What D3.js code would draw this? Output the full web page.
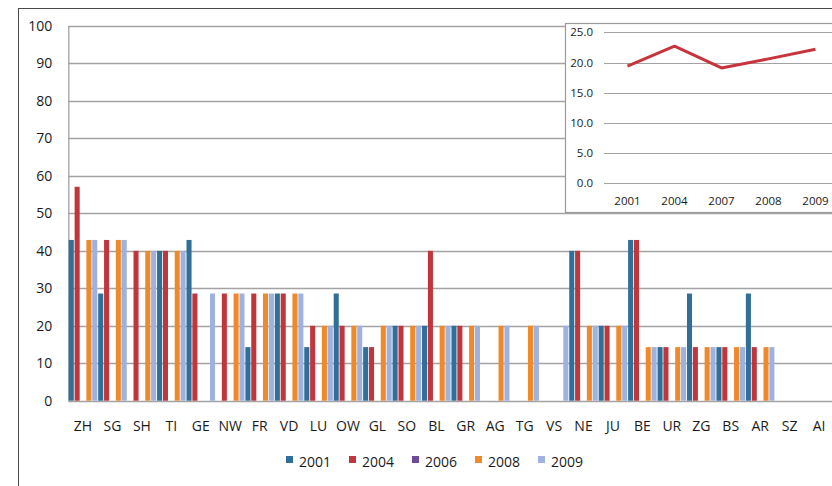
<!DOCTYPE html>
<html>
<head>
<meta charset="utf-8">
<script src="https://cdn.jsdelivr.net/npm/d3@7"></script>
<style>
  html, body { margin: 0; padding: 0; background: #fff; }
  svg { display: block; }
  text { font-family: "Open Sans", "Noto Sans", sans-serif; fill: #1a1a1a; }
</style>
</head>
<body>
<svg id="chart" width="832" height="486"></svg>
<script>
// ---------- data ----------
const categories = ["ZH","SG","SH","TI","GE","NW","FR","VD","LU","OW","GL","SO","BL","GR","AG","TG","VS","NE","JU","BE","UR","ZG","BS","AR","SZ","AI"];
const seriesNames = ["2001","2004","2006","2008","2009"];
const s2001 = [42.9,28.6,null,40,42.9,null,14.3,28.6,14.3,28.6,14.3,20,20,20,null,null,null,40,20,42.9,14.3,28.6,14.3,28.6,null,null];
const s2004 = [57.1,42.9,40,40,28.6,28.6,28.6,28.6,20,20,14.3,20,40,20,null,null,null,40,20,42.9,14.3,14.3,14.3,14.3,null,null];
const s2006 = [null,null,null,null,null,null,null,null,null,null,null,null,null,null,null,null,null,null,null,null,null,null,null,null,null,null];
const s2008 = [42.9,42.9,40,40,null,28.6,28.6,28.6,20,20,20,20,20,20,20,20,null,20,20,14.3,14.3,14.3,14.3,14.3,null,null];
const s2009 = [42.9,42.9,40,40,28.6,28.6,28.6,28.6,20,20,20,20,20,20,20,20,20,20,20,14.3,14.3,14.3,14.3,14.3,null,null];
const seriesValues = [s2001, s2004, s2006, s2008, s2009];
const yTicks = [0,10,20,30,40,50,60,70,80,90,100];

const insetYears = ["2001","2004","2007","2008","2009"];
const insetValues = [19.4, 22.7, 19.1, 20.6, 22.2];
const insetTicks = [0,5,10,15,20,25];

// ---------- styles ----------
const colors = ["#2f6f98", "#c0363b", "#6c4c9a", "#f0892a", "#9eb1df"];
const gridColor = "#a3a3a3";

const svg = d3.select("#chart");

// outer chart border
svg.append("rect")
  .attr("x", 18.5).attr("y", 8.5).attr("width", 900).attr("height", 600)
  .attr("fill", "#fff").attr("stroke", "#4a4a4a").attr("stroke-width", 1);

// ---------- main chart ----------
const plotL = 68.3, plotR = 68.3 + 29.44 * categories.length, plotT = 26, plotB = 400.7;

const x = d3.scaleBand().domain(categories).range([plotL, plotR]).paddingInner(0.03).paddingOuter(0.015);
const xs = d3.scaleBand().domain(seriesNames).range([0, x.bandwidth()]).paddingInner(0.14);
const y = d3.scaleLinear().domain([0, 100]).range([plotB, plotT]);

// gridlines
svg.append("g").selectAll("line").data(yTicks).join("line")
  .attr("x1", plotL).attr("x2", 832)
  .attr("y1", d => Math.round(y(d)) + 0.5).attr("y2", d => Math.round(y(d)) + 0.5)
  .attr("stroke", gridColor).attr("stroke-width", 1.3);

// y axis line
svg.append("line")
  .attr("x1", plotL + 0.5).attr("x2", plotL + 0.5)
  .attr("y1", plotT).attr("y2", plotB)
  .attr("stroke", gridColor).attr("stroke-width", 1.3);

// y tick labels
const yAxis = d3.axisLeft(y).tickValues(yTicks).tickSize(0).tickPadding(16);
const gy = svg.append("g").attr("transform", `translate(${plotL},0)`).call(yAxis);
gy.select(".domain").remove();
gy.selectAll("text").style("font-size", "14px").style("font-family", '"Open Sans", sans-serif').attr("fill", "#1a1a1a");

// bars
const barData = [];
categories.forEach((c, i) => {
  seriesNames.forEach((s, j) => {
    const v = seriesValues[j][i];
    if (v != null) barData.push({ c, s, v, j });
  });
});
svg.append("g").selectAll("rect").data(barData).join("rect")
  .attr("x", d => x(d.c) + xs(d.s))
  .attr("width", xs.bandwidth())
  .attr("y", d => y(d.v))
  .attr("height", d => y(0) - y(d.v))
  .attr("fill", d => colors[d.j]);

// x axis labels
const xAxis = d3.axisBottom(x).tickSize(0).tickPadding(20);
const gx = svg.append("g").attr("transform", `translate(0,${plotB})`).call(xAxis);
gx.select(".domain").remove();
gx.selectAll("text").style("font-size", "14px").style("font-family", '"Open Sans", sans-serif').attr("fill", "#1a1a1a");

// legend
const legendX = [286, 349, 412, 475, 538];
const lg = svg.append("g");
seriesNames.forEach((s, j) => {
  lg.append("rect").attr("x", legendX[j]).attr("y", 456).attr("width", 7).attr("height", 7).attr("fill", colors[j]);
  lg.append("text").attr("x", legendX[j] + 13).attr("y", 462).attr("dy", "0.35em")
    .style("font-size", "14px").text(s);
});

// ---------- inset ----------
const inset = svg.append("g");
inset.append("rect")
  .attr("x", 565.5).attr("y", 23.5).attr("width", 400).attr("height", 189)
  .attr("fill", "#fff").attr("stroke", "#9a9a9a").attr("stroke-width", 1.2);

const iL = 604, iR = 604 + 47 * insetYears.length, iT = 32.3, iB = 183.3;
const ix = d3.scaleBand().domain(insetYears).range([iL, iR]);
const iy = d3.scaleLinear().domain([0, 25]).range([iB, iT]);

inset.append("g").selectAll("line").data(insetTicks).join("line")
  .attr("x1", iL).attr("x2", 832)
  .attr("y1", d => Math.round(iy(d)) + 0.5).attr("y2", d => Math.round(iy(d)) + 0.5)
  .attr("stroke", gridColor).attr("stroke-width", 1.2);

const iyAxis = d3.axisLeft(iy).tickValues(insetTicks).tickFormat(d3.format(".1f")).tickSize(0).tickPadding(11);
const giy = inset.append("g").attr("transform", `translate(${iL},0)`).call(iyAxis);
giy.select(".domain").remove();
giy.selectAll("text").style("font-size", "11.5px").style("font-family", '"Open Sans", sans-serif').attr("fill", "#1a1a1a");

const ixAxis = d3.axisBottom(ix).tickSize(0).tickPadding(14);
const gix = inset.append("g").attr("transform", `translate(0,${iB})`).call(ixAxis);
gix.select(".domain").remove();
gix.selectAll("text").style("font-size", "11.5px").style("font-family", '"Open Sans", sans-serif').attr("fill", "#1a1a1a");

const line = d3.line().x((d, i) => ix(insetYears[i]) + ix.bandwidth() / 2).y(d => iy(d));
inset.append("path").datum(insetValues)
  .attr("d", line).attr("fill", "none")
  .attr("stroke", "#c8343c").attr("stroke-width", 3).attr("stroke-linejoin", "round");
</script>
</body>
</html>
